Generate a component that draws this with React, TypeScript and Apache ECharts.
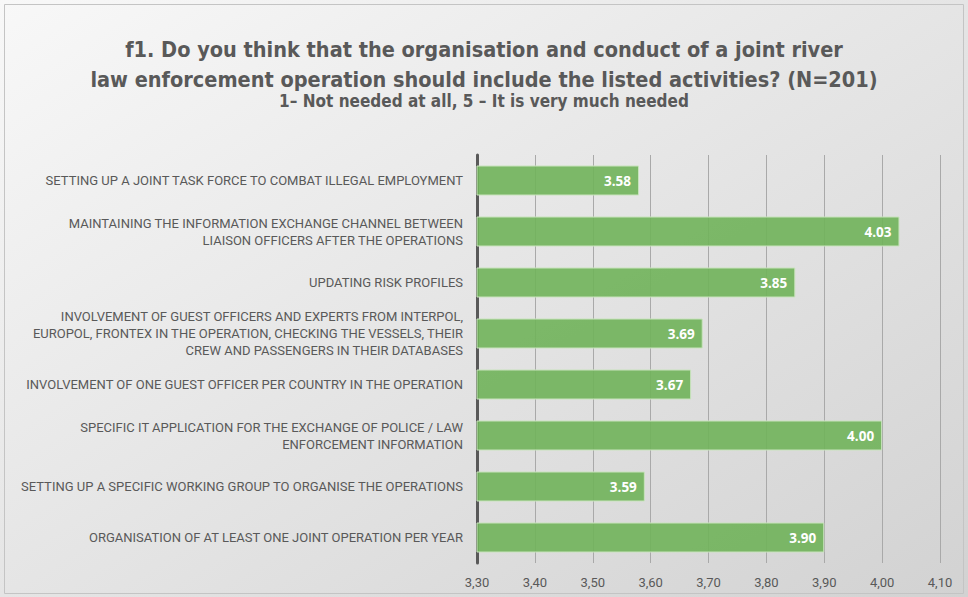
import React, { useEffect, useRef } from "react";
import * as echarts from "echarts";

const categories = [
  "SETTING UP A JOINT TASK FORCE TO COMBAT ILLEGAL EMPLOYMENT",
  "MAINTAINING THE INFORMATION EXCHANGE CHANNEL BETWEEN\nLIAISON OFFICERS AFTER THE OPERATIONS",
  "UPDATING RISK PROFILES",
  "INVOLVEMENT OF GUEST OFFICERS AND EXPERTS FROM INTERPOL,\nEUROPOL, FRONTEX IN THE OPERATION, CHECKING THE VESSELS, THEIR\nCREW AND PASSENGERS IN THEIR DATABASES",
  "INVOLVEMENT OF ONE GUEST OFFICER PER COUNTRY IN THE OPERATION",
  "SPECIFIC IT APPLICATION FOR THE EXCHANGE OF POLICE / LAW\nENFORCEMENT INFORMATION",
  "SETTING UP A SPECIFIC WORKING GROUP TO ORGANISE THE OPERATIONS",
  "ORGANISATION OF AT LEAST ONE JOINT OPERATION PER YEAR",
];
const values = [3.58, 4.03, 3.85, 3.69, 3.67, 4.0, 3.59, 3.9];

const titleText =
  "f1. Do you think that the organisation and conduct of a joint river\nlaw enforcement operation should include the listed activities? (N=201)";
const subtitleText = "1– Not needed at all, 5 – It is very much needed";

const condensed = "'DejaVu Sans Condensed', Roboto, sans-serif";

export default function App() {
  const ref = useRef<HTMLDivElement>(null);
  useEffect(() => {
    document.body.style.margin = "0";
    const chart = echarts.init(ref.current!, null, { renderer: "svg" });
    chart.setOption({
      animation: false,
      backgroundColor: new echarts.graphic.LinearGradient(0, 0, 1, 1, [
        { offset: 0, color: "#f8f8f8" },
        { offset: 1, color: "#d2d2d2" },
      ]),
      graphic: [
        {
          type: "rect",
          shape: { x: 4.5, y: 4.5, width: 959, height: 589 },
          style: { fill: "none", stroke: "#c4c4c4", lineWidth: 1 },
          silent: true,
        },
      ],
      title: [
        {
          text: titleText,
          left: "center",
          top: 29,
          textStyle: {
            fontFamily: condensed,
            fontWeight: "bold",
            fontSize: 21.5,
            color: "#595959",
            lineHeight: 30,
          },
        },
        {
          text: subtitleText,
          left: "center",
          top: 87,
          textStyle: {
            fontFamily: condensed,
            fontWeight: "bold",
            fontSize: 17,
            color: "#595959",
          },
        },
      ],
      grid: { left: 477, right: 28, top: 155, bottom: 34, containLabel: false },
      xAxis: {
        type: "value",
        min: 3.3,
        max: 4.1,
        interval: 0.1,
        axisLine: { show: false },
        axisTick: { show: false },
        splitLine: { show: true, lineStyle: { color: "#a9a9a9", width: 1 } },
        axisLabel: {
          color: "#595959",
          fontFamily: "Roboto, sans-serif",
          fontSize: 13,
          margin: 13,
          formatter: (v: number) => v.toFixed(2).replace(".", ","),
        },
      },
      yAxis: {
        type: "category",
        inverse: true,
        data: categories,
        axisLine: { show: true, lineStyle: { color: "#595959", width: 3 } },
        axisTick: { show: false },
        axisLabel: {
          color: "#595959",
          fontFamily: "Roboto, sans-serif",
          fontSize: 13,
          lineHeight: 17,
          margin: 14,
          align: "right",
        },
      },
      series: [
        {
          type: "bar",
          data: values,
          barWidth: 30,
          z: 1,
          itemStyle: {
            color: "rgba(112,178,90,0.9)",
            borderColor: "#c9e3bd",
            borderWidth: 1,
          },
          label: {
            show: true,
            position: "insideRight",
            offset: [-3, 0],
            color: "#ffffff",
            fontWeight: "bold",
            fontFamily: "'Open Sans', sans-serif",
            fontSize: 13.5,
            formatter: (p: any) => p.value.toFixed(2),
          },
        },
      ],
    });
    return () => chart.dispose();
  }, []);
  return <div ref={ref} style={{ width: 968, height: 597 }} />;
}
